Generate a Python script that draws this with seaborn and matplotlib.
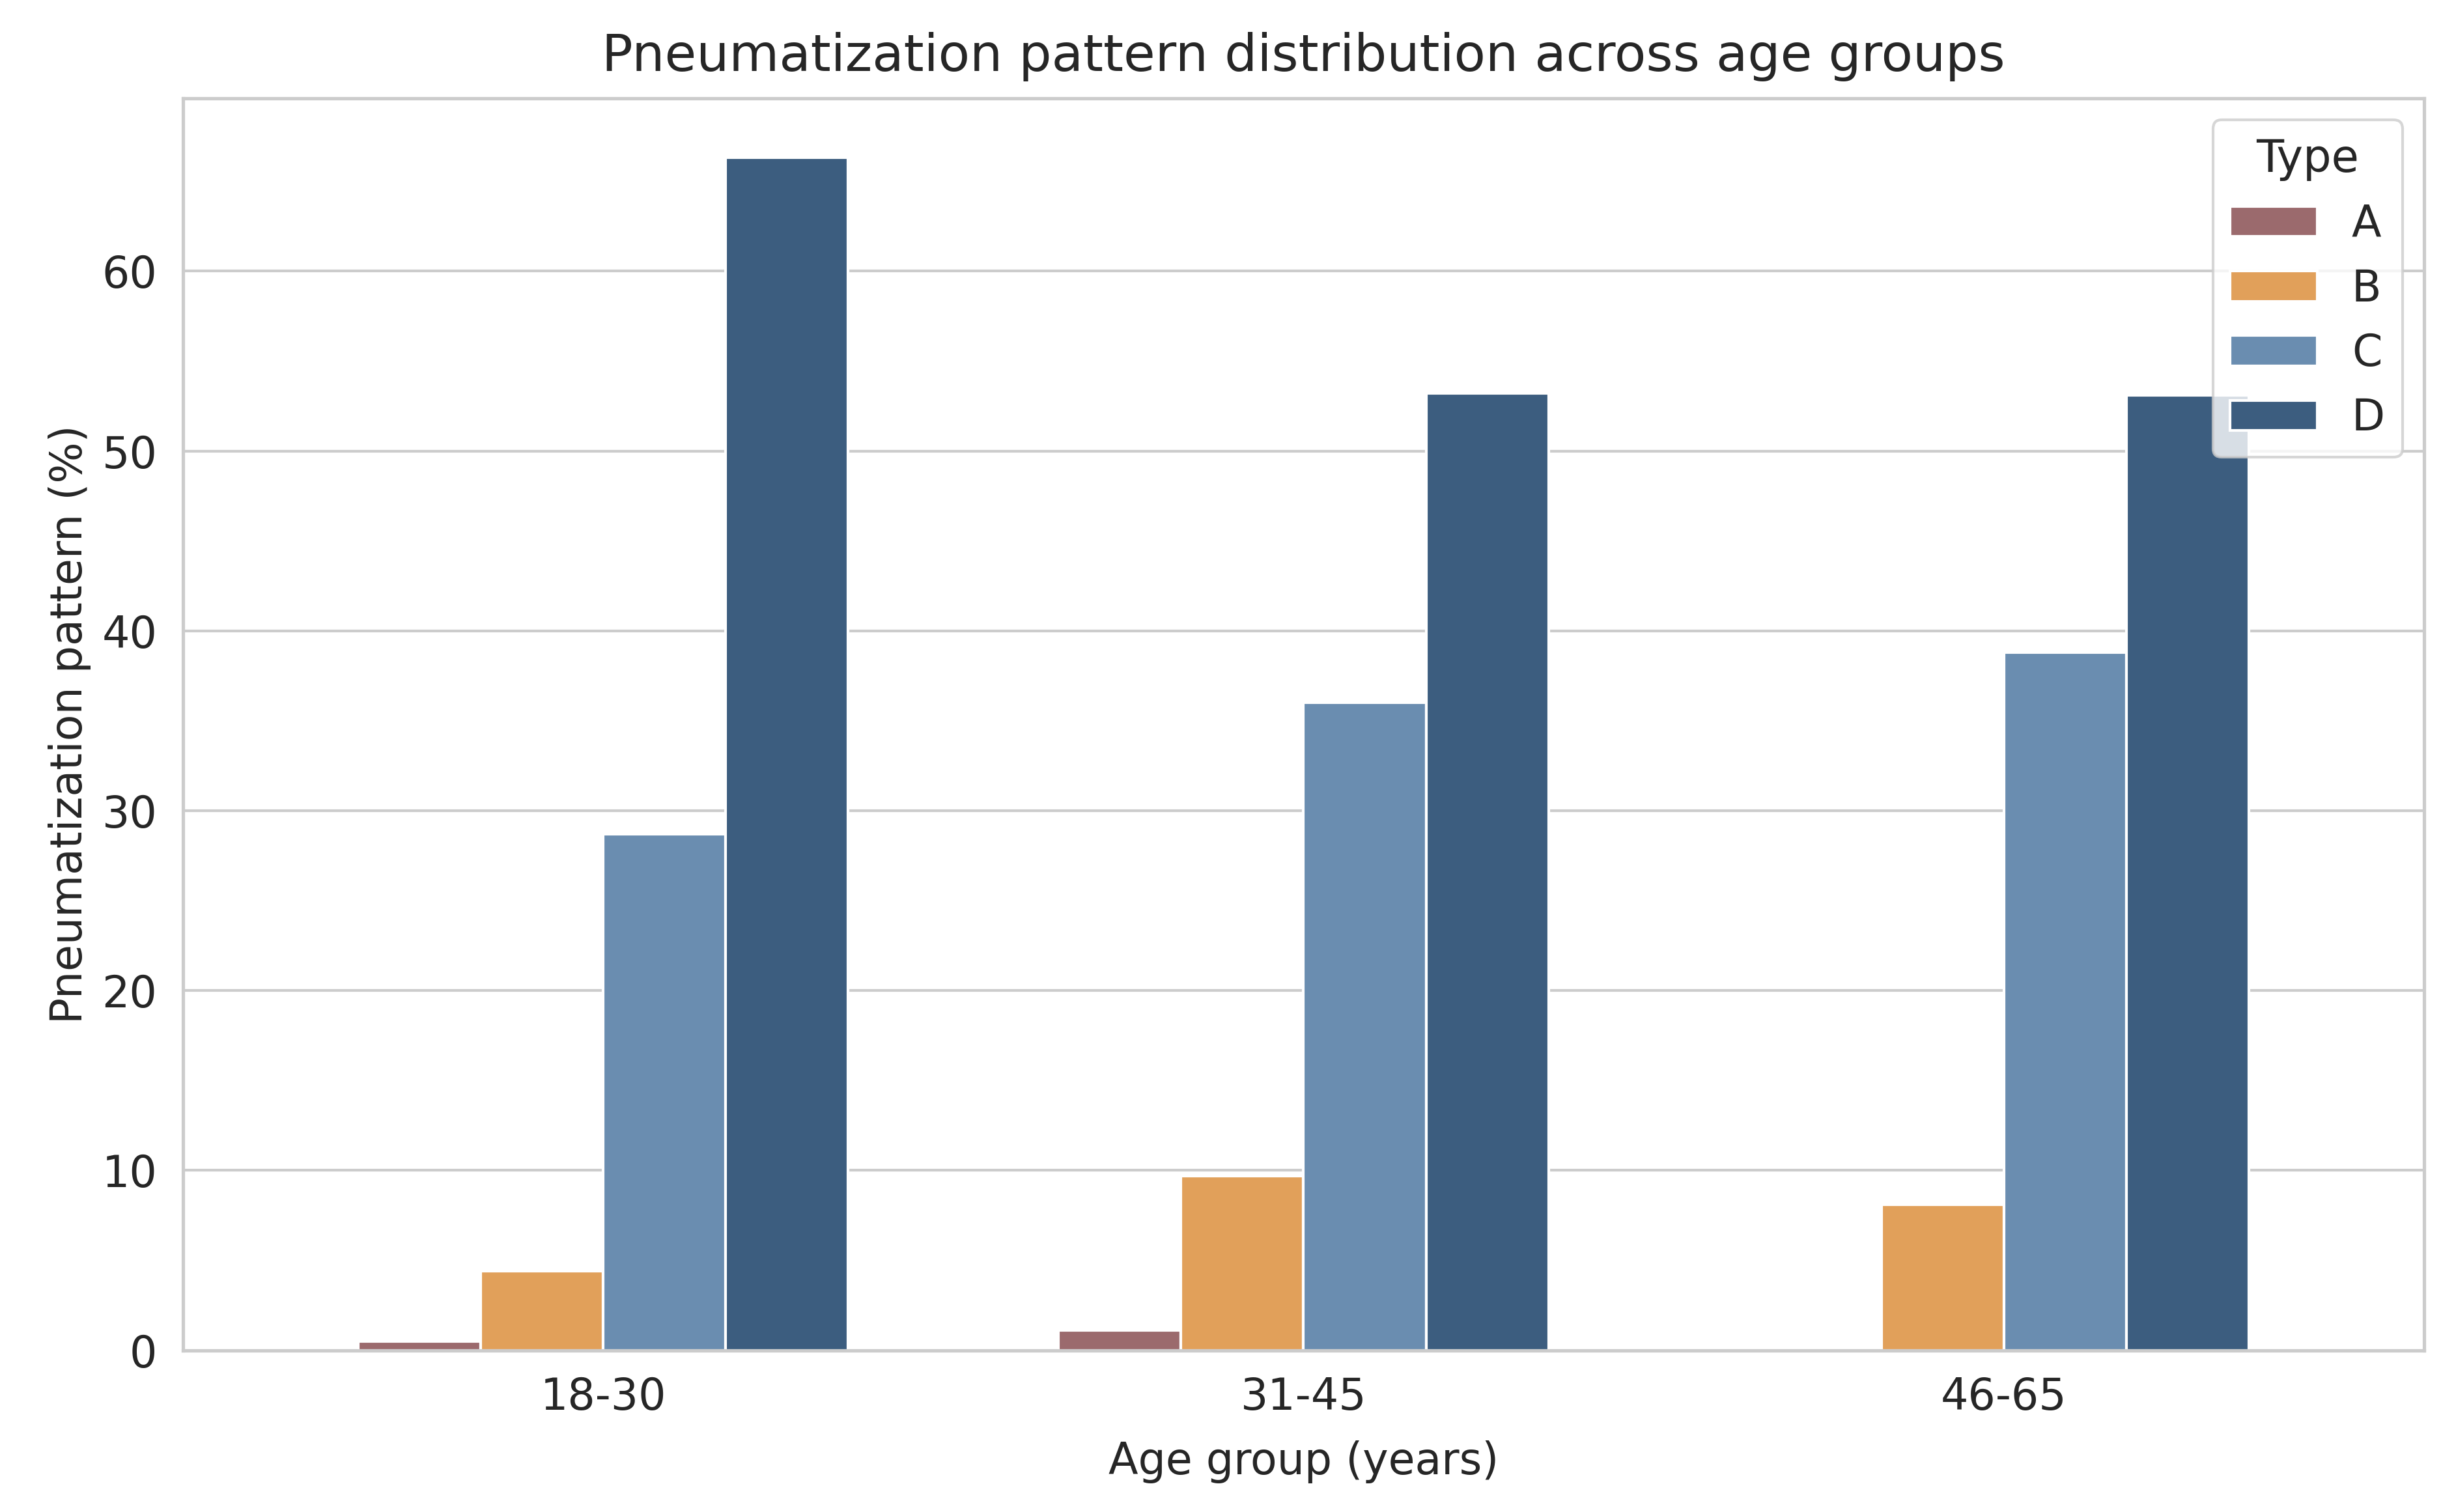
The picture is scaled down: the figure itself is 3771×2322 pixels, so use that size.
import numpy as np
import pandas as pd
import matplotlib
matplotlib.use('Agg')
import matplotlib.pyplot as plt
import seaborn as sns

# Values (percent of each age group)
age_groups = ['18-30', '31-45', '46-65']
types = ['A', 'B', 'C', 'D']
type_a = [0.5, 1.1, 0.0]
type_b = [4.4, 9.7, 8.1]
type_c = [28.7, 36.0, 38.8]
type_d = [66.3, 53.2, 53.1]
colors = ['#9b6a6d', '#e1a05a', '#6a8db0', '#3c5d7f']

# Long-form table for seaborn
df = pd.DataFrame({
    'age': age_groups * 4,
    'type': [t for t in types for _ in age_groups],
    'pct': type_a + type_b + type_c + type_d,
})

sns.set_theme(style='whitegrid', context='notebook', font_scale=1.5)

fig, ax = plt.subplots(figsize=(12.57, 7.74), dpi=300)
sns.barplot(data=df, x='age', y='pct', hue='type', order=age_groups,
            hue_order=types, palette=colors, saturation=1, width=0.7, ax=ax)

ax.set_xlim(-0.6, 2.6)
ax.set_ylim(0, df['pct'].max() * 1.05)
ax.set_title('Pneumatization pattern distribution across age groups', fontsize=19, pad=10)
ax.set_xlabel('Age group (years)', fontsize=16, labelpad=8)
ax.set_ylabel('Pneumatization pattern (%)', fontsize=16)
ax.tick_params(labelsize=16)
ax.legend(title='Type', loc='upper right', fontsize=16, title_fontsize=16.5)

fig.subplots_adjust(left=0.0745, right=0.987, top=0.935, bottom=0.107)
fig.savefig('out.png', dpi=300)
